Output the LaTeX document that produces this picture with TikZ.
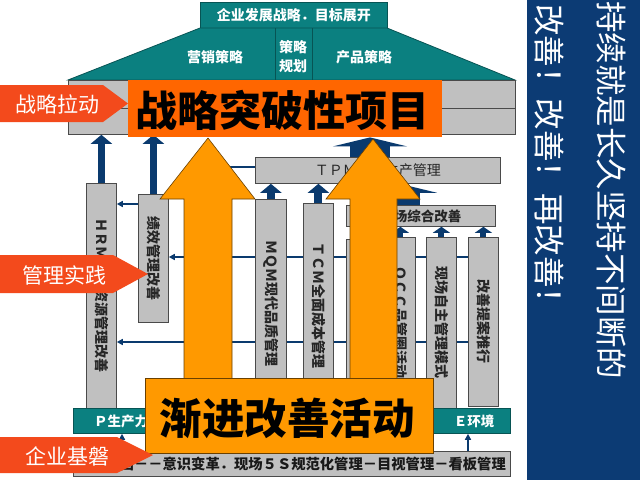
\documentclass[tikz,border=0pt]{standalone}
\usepackage{fontspec}
\usepackage{graphicx}
\setmainfont{Noto Sans CJK SC}
\usetikzlibrary{arrows.meta}
\definecolor{panelblue}{HTML}{0C3B74}
\definecolor{arrblue}{HTML}{0A3A6E}
\definecolor{tealc}{HTML}{0B8080}
\definecolor{tealedge}{HTML}{075454}
\definecolor{grayc}{HTML}{C0C0C0}
\definecolor{orgA}{HTML}{FF9900}
\definecolor{orgT}{HTML}{FF6600}
\definecolor{labred}{HTML}{F34A1C}
\definecolor{edgec}{HTML}{4A4A4A}
\definecolor{orgedge}{HTML}{6A4000}
\newcommand\fsz[1]{\fontsize{#1}{#1}\selectfont}
\begin{document}
\begin{tikzpicture}[x=1pt,y=-1pt,
  colbox/.style={draw=edgec, line width=0.8pt, fill=grayc, inner sep=0pt, minimum width=30pt, anchor=north west, font=\bfseries\fsz{14}, text=black!85},
  hbox/.style={draw=edgec, line width=0.8pt, fill=grayc, inner sep=0pt, anchor=north west},
  tealbox/.style={draw=tealedge, line width=0.8pt, fill=tealc, inner sep=0pt, anchor=north west},
  wtxt/.style={text=white, font=\bfseries\fsz{14}, inner sep=0pt},
  thinarr/.style={draw=arrblue, line width=1.5pt, -{Triangle[width=6pt,length=6pt]}},
  colarr/.style={draw=arrblue, line width=7pt, -{Triangle[width=21pt,length=9pt]}},
  smallarr/.style={draw=arrblue, line width=6pt, -{Triangle[width=17pt,length=6pt]}},
  flatarr/.style={draw=arrblue, line width=40pt, -{Triangle[width=74pt,length=9pt]}},
  basearr/.style={draw=arrblue, line width=1.5pt, -{Triangle[width=6pt,length=6pt]}},
  bigorange/.style={fill=orgA, draw=orgedge, line width=0.6pt, line join=miter},
  labshape/.style={fill=labred},
  labtxt/.style={text=white, font=\fsz{21}, inner sep=0pt}
]
\useasboundingbox (0,0) rectangle (640,480);

% right panel
\node[fill=panelblue, inner sep=0pt, minimum width=113pt, minimum height=480pt, anchor=north west] (panel) at (527,0) {};
\node[rotate=-90, anchor=west, inner sep=0pt, text=white, font=\fsz{31.5}] (slogan1) at (611,1) {持续就是长久坚持不间断的};
\node[rotate=-90, anchor=west, inner sep=0pt, text=white, font=\fsz{31.5}] (slogan2) at (549,4) {改善！改善！再改善！};

% roof
\node[tealbox, minimum width=187pt, minimum height=26pt, font=\bfseries\fsz{14}, text=white] (topbox) at (200,2) {企业发展战略．目标展开};
\path[fill=tealc, draw=tealedge, line width=0.8pt] (200,28) -- (387,28) -- (515,80) -- (68,80) -- cycle;
\draw[tealedge, line width=0.8pt] (275,28) -- (275,80) (312,28) -- (312,80);
\node[wtxt] (yx) at (215,57) {营销策略};
\node[wtxt, align=center, font=\bfseries\fontsize{14}{19}\selectfont] (cl) at (293,57) {策略\\规划};
\node[wtxt] (cp) at (364,57) {产品策略};

% gray bar
\node[hbox, minimum width=447pt, minimum height=28pt] (bar1) at (68,80) {};
\node[hbox, minimum width=447pt, minimum height=26pt] (bar2) at (68,108) {};

% thin left-pointing lines
\coordinate (l167end) at (200,167);
\node[hbox, minimum width=245pt, minimum height=26pt, font=\fsz{14}, text=black!85] (tpm) at (255,157) {ＴＰＭ全员生产管理};
\draw[draw=arrblue, line width=1.5pt] (tpm.west |- 0,167) -- (l167end);

% columns
\node[colbox, minimum height=225pt] (hrm) at (86,183) {\rotatebox{-90}{ＨＲＭ人力资源管理改善}};
\node[colbox, minimum height=128pt] (jx) at (138,194) {\rotatebox{-90}{绩效管理改善}};
\node[colbox, minimum height=169pt] (ta) at (468,237) {\rotatebox{-90}{改善提案推行}};
\draw[thinarr] (jx.west |- 0,204) -- (hrm.east |- 0,204);
\draw[thinarr] (ta.west |- 0,257) -- (jx.east |- 0,257);
\draw[thinarr] (ta.west |- 0,342) -- (hrm.east |- 0,342);
% redraw columns over lines
\node[colbox, minimum height=225pt] (hrmb) at (86,183) {\rotatebox{-90}{ＨＲＭ人力资源管理改善}};
\node[colbox, minimum height=209pt, minimum width=31pt] (mqm) at (255,199) {\rotatebox{-90}{ＭＱＭ现代品质管理}};
\node[colbox, minimum height=205pt] (tcm) at (303,203) {\rotatebox{-90}{ＴＣＭ全面成本管理}};
\node[colbox, minimum height=169pt] (hid) at (346,239) {};
\node[colbox, minimum height=171pt] (qcc) at (385,237) {\rotatebox{-90}{ＱＣＣ品管圈活动}};
\node[colbox, minimum height=171pt] (zz) at (426,237) {\rotatebox{-90}{现场自主管理模式}};
\node[hbox, minimum width=149pt, minimum height=21pt, font=\bfseries\fsz{13.5}, text=black!85] (xczh) at (346,205) {现场综合改善};

% blue arrows
\draw[colarr] (hrmb.north) -- (hrmb.north |- bar2.south);
\draw[colarr] (jx.north) -- (jx.north |- bar2.south);
\draw[colarr, line width=8pt] (mqm.north) -- (mqm.north |- tpm.south);
\draw[colarr, line width=8pt] (tcm.north) -- (tcm.north |- tpm.south);
\draw[smallarr] (qcc.north) -- (qcc.north |- xczh.south);
\draw[smallarr] (zz.north) -- (zz.north |- xczh.south);
\draw[smallarr] (ta.north) -- (ta.north |- xczh.south);
\draw[flatarr] (xczh.north -| 400,0) -- (tpm.south -| 400,0);

% title box
\node[fill=orgT, inner sep=0pt, minimum width=314pt, minimum height=57pt, anchor=north west] (title) at (128,80) {};
\draw[flatarr] (tpm.north -| 370,0) -- (title.south -| 370,0);
\node[font=\bfseries\fsz{42}, inner sep=0pt] (titletxt) at (282,110) {战略突破性项目};

% bottom strips
\node[tealbox, minimum width=437pt, minimum height=25pt] (pstrip) at (73,408) {};
\node[wtxt, font=\bfseries\fsz{13.5}] (ptxt) at (121,421) {Ｐ生产力};
\node[wtxt, font=\bfseries\fsz{13.5}] (etxt) at (474,421) {Ｅ环境};
\node[hbox, minimum width=437pt, minimum height=25pt] (base) at (73,451) {};
\node[font=\bfseries\fsz{14.3}, inner sep=0pt, anchor=east, text=black!90] (basetxt) at (506,464) {固－－意识变革．现场５Ｓ规范化管理－目视管理－看板管理};
\draw[basearr] (base.north -| 122,0) -- (pstrip.south -| 122,0);
\draw[basearr] (base.north -| 468,0) -- (pstrip.south -| 468,0);

% big orange arrows
\path[bigorange] (184,380) -- (184,199) -- (160,199) -- (208,138) -- (255,199) -- (232,199) -- (232,380) -- cycle;
\path[bigorange] (350,380) -- (350,199) -- (326,199) -- (373,139) -- (420,199) -- (397,199) -- (397,380) -- cycle;

% gradual improvement box
\node[fill=orgA, draw=orgedge, line width=0.6pt, inner sep=0pt, minimum width=288pt, minimum height=75pt, anchor=north west] (jj) at (145,378) {};
\node[font=\bfseries\fsz{42.5}, inner sep=0pt] (jjtxt) at (287,418) {渐进改善活动};

% red labels
\path[labshape] (0,85) -- (103,85) -- (128,103.5) -- (103,122) -- (0,122) -- cycle;
\node[labtxt] (lab1) at (58,104) {战略拉动};
\path[labshape] (0,255) -- (113,255) -- (148,274) -- (113,293) -- (0,293) -- cycle;
\node[labtxt] (lab2) at (65,275) {管理实践};
\path[labshape] (0,437) -- (117,437) -- (153,455) -- (117,473) -- (0,473) -- cycle;
\node[labtxt] (lab3) at (67,456) {企业基磐};
\end{tikzpicture}
\end{document}
